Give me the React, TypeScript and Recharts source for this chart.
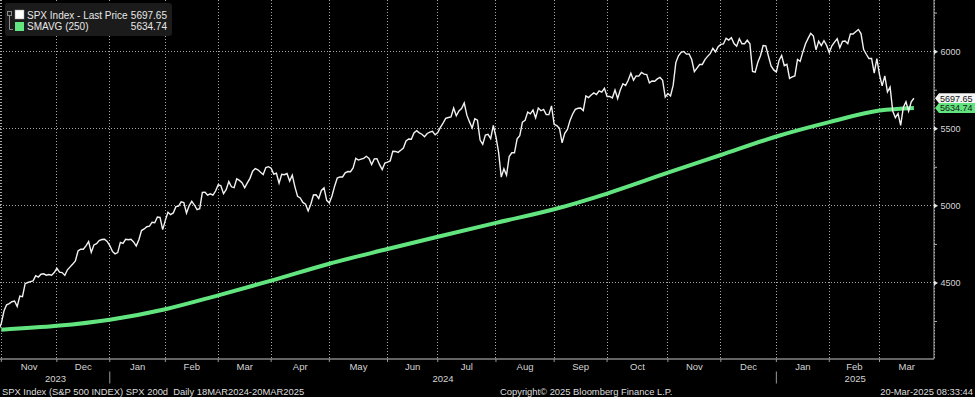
import React from "react";
import {
  LineChart,
  Line,
  XAxis,
  YAxis,
  CartesianGrid,
  ReferenceDot,
} from "recharts";

document.body.style.margin = "0";
document.body.style.background = "#000";

const FONT = "'Liberation Sans', Arial, sans-serif";
const TXT = "#d4d4d4";
const GRID = "#a6a6a6";
const WHITE = "#f2f2f2";
const GREEN = "#62e47f";

// SPX daily closes, one array per month (Nov 2023 - Mar 2025)
const priorClose = 4193.8; // 31 Oct 2023
const nov23 = [4237.86, 4317.78, 4358.34, 4365.98, 4378.38, 4382.78, 4347.35, 4415.24, 4411.55, 4495.7, 4502.88, 4508.24, 4514.02, 4547.38, 4538.19, 4556.62, 4559.34, 4550.43, 4554.89, 4550.58, 4567.8];
const dec23 = [4594.63, 4569.78, 4567.18, 4549.34, 4585.59, 4604.37, 4622.44, 4643.7, 4707.09, 4719.55, 4719.19, 4740.56, 4768.37, 4698.35, 4746.75, 4754.63, 4774.75, 4781.58, 4783.35, 4769.83];
const jan24 = [4742.83, 4704.81, 4688.68, 4697.24, 4763.54, 4756.5, 4783.45, 4780.24, 4783.83, 4765.98, 4739.21, 4780.94, 4839.81, 4850.43, 4864.6, 4868.55, 4894.16, 4890.97, 4927.93, 4924.97, 4845.65];
const feb24 = [4906.19, 4958.61, 4942.81, 4954.23, 4995.06, 4997.91, 5026.61, 5021.84, 4953.17, 5000.62, 5029.73, 5005.57, 4975.51, 4981.8, 5087.03, 5088.8, 5069.53, 5078.18, 5069.76, 5096.27];
const mar24 = [5137.08, 5130.95, 5078.65, 5104.76, 5157.36, 5123.69, 5117.94, 5175.27, 5165.31, 5150.48, 5117.09, 5149.42, 5178.51, 5224.62, 5241.53, 5234.18, 5218.19, 5203.58, 5248.49, 5254.35];
const apr24 = [5243.77, 5205.81, 5211.49, 5147.21, 5204.34, 5202.39, 5209.91, 5160.64, 5199.06, 5123.41, 5061.82, 5051.41, 5022.21, 5011.12, 4967.23, 5010.6, 5070.55, 5071.63, 5048.42, 5099.96, 5116.17, 5035.69];
const may24 = [5018.39, 5064.2, 5127.79, 5180.74, 5187.7, 5187.67, 5214.08, 5222.68, 5221.42, 5246.68, 5308.15, 5297.1, 5303.27, 5308.13, 5321.41, 5307.01, 5267.84, 5304.72, 5306.04, 5266.95, 5235.48, 5277.51];
const jun24 = [5283.4, 5291.34, 5354.03, 5352.96, 5346.99, 5360.79, 5375.32, 5421.03, 5433.74, 5431.6, 5473.23, 5487.03, 5473.17, 5464.62, 5447.87, 5469.3, 5477.9, 5482.87, 5460.48];
const jul24 = [5475.09, 5509.01, 5537.02, 5567.19, 5572.85, 5576.98, 5633.91, 5584.54, 5615.35, 5631.22, 5667.2, 5588.27, 5544.59, 5505.0, 5564.41, 5555.74, 5427.13, 5399.22, 5459.1, 5463.54, 5436.44, 5522.3];
const aug24 = [5446.68, 5346.56, 5186.33, 5240.03, 5199.5, 5319.31, 5344.16, 5344.39, 5434.43, 5455.21, 5543.22, 5554.25, 5608.25, 5597.12, 5620.85, 5570.64, 5634.61, 5616.84, 5625.8, 5592.18, 5591.96, 5648.4];
const sep24 = [5528.93, 5520.07, 5503.41, 5408.42, 5471.05, 5495.52, 5554.13, 5595.76, 5626.02, 5633.09, 5634.58, 5618.26, 5713.64, 5702.55, 5718.57, 5732.93, 5722.26, 5745.37, 5738.17, 5762.48];
const oct24 = [5708.75, 5709.54, 5699.94, 5751.07, 5695.94, 5751.13, 5792.04, 5780.05, 5815.03, 5859.85, 5815.26, 5842.47, 5841.47, 5864.67, 5853.98, 5851.2, 5797.42, 5809.86, 5808.12, 5823.52, 5832.92, 5813.67, 5705.45];
const nov24 = [5728.8, 5712.69, 5782.76, 5929.04, 5973.1, 5995.54, 6001.35, 5983.99, 5985.38, 5949.17, 5870.62, 5893.62, 5916.98, 5917.11, 5948.71, 5969.34, 5987.37, 6021.63, 5998.74, 6032.38];
const dec24 = [6047.15, 6049.88, 6086.49, 6075.11, 6090.27, 6052.85, 6034.91, 6084.19, 6051.25, 6051.09, 6074.08, 6050.61, 5872.16, 5867.08, 5930.85, 5974.07, 6040.04, 6037.59, 5970.84, 5906.94, 5881.63];
const jan25 = [5868.55, 5942.47, 5975.38, 5909.03, 5918.25, 5827.04, 5836.22, 5842.91, 5949.91, 5937.34, 5996.66, 6049.24, 6086.37, 6118.71, 6101.24, 6012.28, 6067.7, 6039.31, 6071.17, 6040.53];
const feb25 = [5994.57, 6037.88, 6061.48, 6083.57, 6025.99, 6066.44, 6068.5, 6051.97, 6115.07, 6114.63, 6129.58, 6144.15, 6117.52, 6013.13, 5983.25, 5955.25, 5956.06, 5861.57, 5954.5];
const mar25 = [5849.72, 5778.15, 5842.63, 5738.52, 5770.2, 5614.56, 5572.07, 5599.3, 5521.52, 5638.94, 5675.12, 5614.66, 5675.29, 5697.65];

const monthCloses = [nov23, dec23, jan24, feb24, mar24, apr24, may24, jun24, jul24, aug24, sep24, oct24, nov24, dec24, jan25, feb25, mar25];
const monthNames = ["Nov", "Dec", "Jan", "Feb", "Mar", "Apr", "May", "Jun", "Jul", "Aug", "Sep", "Oct", "Nov", "Dec", "Jan", "Feb", "Mar"];
const monthYears = [2023, 2023, 2024, 2024, 2024, 2024, 2024, 2024, 2024, 2024, 2024, 2024, 2024, 2024, 2025, 2025, 2025];

// 250-day moving average read at each month's first trading day, plus last value
const smaMonthStart = [4197, 4222, 4262, 4330, 4420, 4515, 4625, 4720, 4800, 4890, 4978, 5080, 5215, 5330, 5450, 5543, 5618];
const smaLast = 5634.74;
const lastPrice = 5697.65;

const priceTicks = [4250, 4500, 4750, 5000, 5250, 5500, 5750, 6000, 6250];
const gridValues = [4500, 5000, 5500, 6000];

// build day-indexed series
const monthStarts: number[] = [];
const priceData: { i: number; v: number }[] = [{ i: -1, v: priorClose }];
let day = 0;
monthCloses.forEach((m) => {
  monthStarts.push(day);
  m.forEach((v) => {
    priceData.push({ i: day, v });
    day++;
  });
});
const lastDay = day - 1;
const xMin = -0.5;
const xMax = 352.6;

const smaData = smaMonthStart.map((v, k) => ({ i: monthStarts[k], v }));
smaData.push({ i: lastDay, v: smaLast });

const monthMids = monthStarts.map((s, k) =>
  k < monthStarts.length - 1 ? (s + monthStarts[k + 1]) / 2 : (s + xMax) / 2
);

const years = [2023, 2024, 2025];
const yearStarts = years.map((y) => monthStarts[monthYears.indexOf(y)]);
const yearMids = years.map((y, k) =>
  k < years.length - 1 ? (Math.max(yearStarts[k], 0) + yearStarts[k + 1]) / 2 : (yearStarts[k] + xMax) / 2
);
const yearTicks = [...yearMids, ...yearStarts.slice(1)];

// axes are stacked 359 / 360 / 361 px from the top (1px each)
const NoTick = () => <g />;

const MonthTick = (props: any) => {
  const { x, y, index } = props;
  return (
    <text x={x} y={y + 10.3} textAnchor="middle" fill={TXT} fontSize={9.5} fontFamily={FONT}>
      {monthNames[index]}
    </text>
  );
};

const YearTick = (props: any) => {
  const { x, y, index } = props;
  if (index < years.length) {
    return (
      <text x={x} y={y + 21.3} textAnchor="middle" fill={TXT} fontSize={9.5} fontFamily={FONT}>
        {years[index]}
      </text>
    );
  }
  return <line x1={x} x2={x} y1={y + 10.5} y2={y + 22.5} stroke="#9a9a9a" />;
};

const PriceTick = (props: any) => {
  const { x, y, payload } = props;
  const v = payload.value;
  if (v % 500 !== 0) {
    return <line x1={x} x2={x + 3} y1={y} y2={y} stroke="#aaa" />;
  }
  return (
    <g>
      <path d={`M${x},${y - 2.5}L${x + 4},${y}L${x},${y + 2.5}Z`} fill="#e6e6e6" />
      <text x={x + 6.5} y={y + 3.3} fill={TXT} fontSize={9} fontFamily={FONT}>
        {v}
      </text>
    </g>
  );
};

const Badge = (props: any) => {
  const { cx, cy, fill, label } = props;
  const h = 5;
  return (
    <g>
      <path
        d={`M${cx + 1},${cy}L${cx + 5},${cy - h}L${cx + 42},${cy - h}L${cx + 42},${cy + h}L${cx + 5},${cy + h}Z`}
        fill={fill}
      />
      <text x={cx + 6} y={cy + 3.3} fill="#151515" fontSize={9} fontFamily={FONT}>
        {label}
      </text>
    </g>
  );
};

const LegendBox = () => (
  <svg width={180} height={40} style={{ position: "absolute", left: 0, top: 0 }}>
    <rect x={5} y={3} width={167} height={33} rx={3} fill="#1b1b1b" />
    <rect x={7.5} y={11.5} width={4} height={4} fill="none" stroke="#8a8a8a" />
    <line x1={9.5} x2={9.5} y1={16} y2={29.5} stroke="#8a8a8a" />
    <line x1={9.5} x2={13} y1={29.5} y2={29.5} stroke="#8a8a8a" />
    <rect x={15} y={10} width={9} height={9} fill="#fff" stroke="#999" strokeWidth={0.5} />
    <rect x={15} y={22} width={9} height={9} fill={GREEN} />
    <text x={27} y={18.8} fill="#e8e8e8" fontSize={10} fontFamily={FONT}>SPX Index - Last Price</text>
    <text x={167} y={18.8} textAnchor="end" fill="#e8e8e8" fontSize={10} fontFamily={FONT}>{lastPrice.toFixed(2)}</text>
    <text x={27} y={29.6} fill="#e8e8e8" fontSize={10} fontFamily={FONT}>SMAVG (250)</text>
    <text x={167} y={29.6} textAnchor="end" fill="#e8e8e8" fontSize={10} fontFamily={FONT}>{smaLast.toFixed(2)}</text>
  </svg>
);

const Footer = () => (
  <svg width={975} height={14} style={{ position: "absolute", left: 0, top: 383 }}>
    <text x={2} y={11.5} fill="#dedede" fontSize={9.4} fontFamily={FONT}>
      SPX Index (S&amp;P 500 INDEX) SPX 200d{"\u00a0\u00a0"}Daily 18MAR2024-20MAR2025
    </text>
    <text x={500} y={11.5} fill="#dedede" fontSize={9.4} fontFamily={FONT}>
      Copyright© 2025 Bloomberg Finance L.P.
    </text>
    <text x={973} y={11.5} textAnchor="end" fill="#dedede" fontSize={9.4} fontFamily={FONT}>
      20-Mar-2025 08:33:44
    </text>
  </svg>
);

export default function App() {
  return (
    <div style={{ position: "relative", width: 975, height: 397, background: "#000", overflow: "hidden" }}>
      <LineChart width={975} height={397} margin={{ top: 0, right: 0, left: 0, bottom: 35 }}>
        <CartesianGrid
          stroke={GRID}
          strokeWidth={1}
          strokeDasharray="1 2"
          shapeRendering="crispEdges"
          horizontalValues={gridValues}
        />
        <XAxis
          dataKey="i"
          type="number"
          domain={[xMin, xMax]}
          allowDataOverflow
          ticks={monthStarts}
          interval={0}
          height={1}
          tick={<NoTick />}
          tickSize={3}
          tickLine={{ stroke: "#9a9a9a" }}
          axisLine={{ stroke: "#c8c8c8" }}
        />
        <XAxis
          xAxisId="lbl"
          dataKey="i"
          type="number"
          domain={[xMin, xMax]}
          allowDataOverflow
          ticks={monthMids}
          interval={0}
          height={1}
          tickSize={0}
          tickMargin={0}
          axisLine={false}
          tickLine={false}
          tick={<MonthTick />}
        />
        <XAxis
          xAxisId="yr"
          dataKey="i"
          type="number"
          domain={[xMin, xMax]}
          allowDataOverflow
          ticks={yearTicks}
          interval={0}
          height={1}
          tickSize={0}
          tickMargin={0}
          axisLine={false}
          tickLine={false}
          tick={<YearTick />}
        />
        <YAxis
          orientation="right"
          type="number"
          domain={[4007, 6335]}
          allowDataOverflow
          ticks={priceTicks}
          interval={0}
          width={41}
          tickSize={0}
          tickMargin={0}
          tickLine={false}
          axisLine={{ stroke: "#b0b0b0" }}
          tick={<PriceTick />}
        />
        <Line
          data={smaData}
          dataKey="v"
          type="monotone"
          stroke={GREEN}
          strokeWidth={4}
          dot={false}
          activeDot={false}
          isAnimationActive={false}
        />
        <Line
          data={priceData}
          dataKey="v"
          type="linear"
          stroke={WHITE}
          strokeWidth={1.4}
          dot={false}
          activeDot={false}
          isAnimationActive={false}
        />
        <ReferenceDot
          x={xMax}
          y={lastPrice}
          r={0}
          ifOverflow="visible"
          shape={(p: any) => <Badge cx={p.cx} cy={p.cy} fill="#f4f4f4" label={lastPrice.toFixed(2)} />}
        />
        <ReferenceDot
          x={xMax}
          y={smaLast}
          r={0}
          ifOverflow="visible"
          shape={(p: any) => <Badge cx={p.cx} cy={p.cy} fill={GREEN} label={smaLast.toFixed(2)} />}
        />
      </LineChart>
      <LegendBox />
      <Footer />
    </div>
  );
}
